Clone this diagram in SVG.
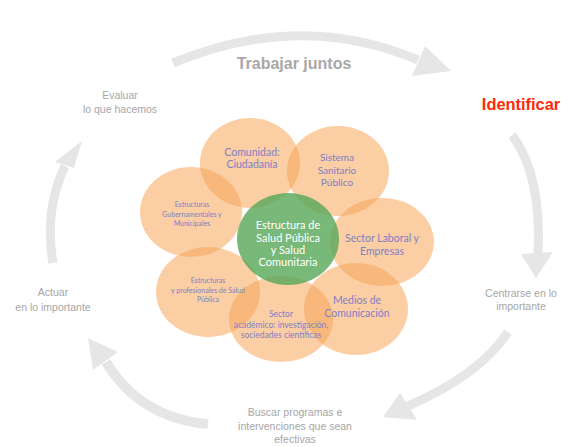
<svg xmlns="http://www.w3.org/2000/svg" width="564" height="447" viewBox="0 0 564 447">
<style>
.band{fill:none;stroke:#e6e6e6;stroke-linecap:butt}
.head{fill:#e6e6e6}
.lbl{font-family:"Liberation Sans",Arial,sans-serif;font-size:10.5px;fill:#a6a6a6;text-anchor:middle}
.pet{fill:#f7a55a;fill-opacity:0.55}
.ctr{fill:#5aa85a;fill-opacity:0.82}
.pt{font-family:Lato,"Open Sans",sans-serif;fill:#7f80c6;text-anchor:middle}
.ct{font-family:Lato,"Open Sans",sans-serif;fill:#ffffff;text-anchor:middle;font-size:11px}
</style>
<rect width="564" height="447" fill="#ffffff"/>
<g id="connectors">
<path class="band" stroke-width="9" d="M173,63 Q300,10 418,60"/>
<polygon class="head" points="425,46 451,71 412,76"/>
<path class="band" stroke-width="9" d="M512,135 Q542,175 538,254"/>
<polygon class="head" points="521,254 553,252 536,278"/>
<path class="band" stroke-width="9" d="M508,332 Q480,375 408,406"/>
<polygon class="head" points="400,393 417,420 383,417"/>
<path class="band" stroke-width="10" d="M208,424 Q140,418 106,362"/>
<polygon class="head" points="93,370 118,352 88,338"/>
<path class="band" stroke-width="9" d="M53,263 Q44,210 65,166"/>
<polygon class="head" points="55,162 74,168 82,141"/>
</g>
<g id="label-trabajar"><text x="294" y="69" style="font-family:'Liberation Sans',Arial,sans-serif;font-size:16px;font-weight:bold;fill:#a8a8a8;text-anchor:middle">Trabajar juntos</text></g>
<g id="label-identificar"><text x="521" y="110" style="font-family:'Liberation Sans',Arial,sans-serif;font-size:16.4px;font-weight:bold;fill:#ff2a0a;text-anchor:middle">Identificar</text></g>
<g id="label-centrarse"><text class="lbl" x="521" y="297">Centrarse en lo</text><text class="lbl" x="521" y="310">importante</text></g>
<g id="label-buscar"><text class="lbl" x="295" y="416">Buscar programas e</text><text class="lbl" x="295" y="430">intervenciones que sean</text><text class="lbl" x="295" y="443">efectivas</text></g>
<g id="label-actuar"><text class="lbl" x="53" y="296">Actuar</text><text class="lbl" x="53" y="311">en lo importante</text></g>
<g id="label-evaluar"><text class="lbl" x="120" y="99">Evaluar</text><text class="lbl" x="120" y="113">lo que hacemos</text></g>
<g id="node-comunidad"><ellipse class="pet" cx="250" cy="163" rx="50" ry="45"/></g>
<g id="node-sistema"><ellipse class="pet" cx="338" cy="171" rx="51" ry="45"/></g>
<g id="node-laboral"><ellipse class="pet" cx="382" cy="242" rx="52" ry="44"/></g>
<g id="node-medios"><ellipse class="pet" cx="356" cy="309" rx="52" ry="46"/></g>
<g id="node-academico"><ellipse class="pet" cx="281" cy="319" rx="52" ry="43"/></g>
<g id="node-profesionales"><ellipse class="pet" cx="208" cy="292" rx="52" ry="45"/></g>
<g id="node-gubernamentales"><ellipse class="pet" cx="191" cy="212" rx="51" ry="45"/></g>
<g id="node-centro"><ellipse class="ctr" cx="288" cy="239" rx="51" ry="46"/></g>
<g id="texts">
<text class="pt" style="font-size:10.5px"><tspan x="252" y="156">Comunidad:</tspan><tspan x="252" y="168">Ciudadanía</tspan></text>
<text class="pt" style="font-size:10px"><tspan x="337" y="161">Sistema</tspan><tspan x="337" y="174">Sanitario</tspan><tspan x="337" y="186">Público</tspan></text>
<text class="pt" style="font-size:10.5px"><tspan x="382" y="242">Sector Laboral y</tspan><tspan x="382" y="255">Empresas</tspan></text>
<text class="pt" style="font-size:10.5px"><tspan x="357" y="304">Medios de</tspan><tspan x="357" y="317">Comunicación</tspan></text>
<text class="pt" style="font-size:8.5px"><tspan x="281" y="317">Sector</tspan><tspan x="281" y="328">académico: investigación,</tspan><tspan x="281" y="338">sociedades científicas</tspan></text>
<text class="pt" style="font-size:7px"><tspan x="192" y="207">Estructuras</tspan><tspan x="192" y="217">Gubernamentales y</tspan><tspan x="192" y="226">Municipales</tspan></text>
<text class="pt" style="font-size:7px"><tspan x="208" y="283">Estructuras</tspan><tspan x="208" y="293">y profesionales de Salud</tspan><tspan x="208" y="302">Pública</tspan></text>
<text class="ct"><tspan x="288" y="229">Estructura de</tspan><tspan x="288" y="242">Salud Pública</tspan><tspan x="288" y="254">y Salud</tspan><tspan x="288" y="266">Comunitaria</tspan></text>
</g>
</svg>
